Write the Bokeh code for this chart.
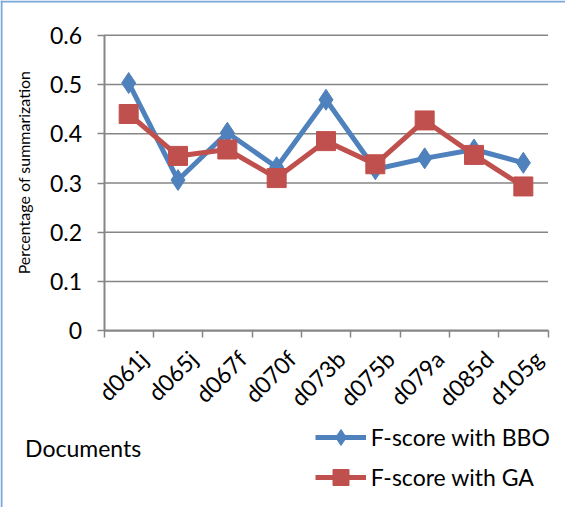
import math
from bokeh.plotting import figure
from bokeh.models import Range1d, FixedTicker, Legend, LegendItem, Label, Span
from bokeh.embed import file_html
from bokeh.resources import INLINE

documents = ["d061j", "d065j", "d067f", "d070f", "d073b", "d075b", "d079a", "d085d", "d105g"]
bbo = [0.503, 0.306, 0.402, 0.332, 0.469, 0.328, 0.350, 0.368, 0.341]
ga = [0.440, 0.355, 0.368, 0.310, 0.385, 0.338, 0.427, 0.357, 0.293]
y_ticks = [0, 0.1, 0.2, 0.3, 0.4, 0.5, 0.6]
y_tick_labels = ["0", "0.1", "0.2", "0.3", "0.4", "0.5", "0.6"]
series_names = ["F-score with BBO", "F-score with GA"]
x_title = "Documents"
y_title = "Percentage of summarization"

FONT = "Lato"
BLUE = "#4F81BD"
RED = "#C0504D"
GRID = "#868686"
BORDER = "#7BA7DC"

# canvas layout (pixels)
W, H = 565, 507
PLOT_L, PLOT_R, PLOT_T, PLOT_B = 103.5, 547.5, 34.7, 330.3
LABEL_SHIFT_PX = 15

n = len(documents)
xs = list(range(n))
bounds = [i - 0.5 for i in range(n + 1)]
x0, x1 = -0.5, n - 0.5
y0, y1 = y_ticks[0], y_ticks[-1]
ux = (PLOT_R - PLOT_L) / (x1 - x0)
uy = (PLOT_B - PLOT_T) / (y1 - y0)
xr = Range1d(x0 - PLOT_L / ux, x1 + (W - PLOT_R) / ux)
yr = Range1d(y0 - (H - PLOT_B) / uy, y1 + PLOT_T / uy)

p = figure(width=W, height=H, output_backend="svg", toolbar_location=None,
           x_range=xr, y_range=yr,
           min_border_left=0, min_border_right=0, min_border_top=0, min_border_bottom=0,
           background_fill_color="white", border_fill_color="white")
p.outline_line_color = None
p.xgrid.visible = False
p.ygrid.visible = False

# chart-area border (left and top edges)
p.add_layout(Span(location=xr.start + 1 / ux, dimension="height", line_color=BORDER, line_width=2))
p.add_layout(Span(location=yr.end - 1 / uy, dimension="width", line_color=BORDER, line_width=2))

# horizontal gridlines
p.segment(x0=[x0] * len(y_ticks), x1=[x1] * len(y_ticks), y0=y_ticks, y1=y_ticks,
          line_color=GRID, line_width=1.5)

# axes
shift = LABEL_SHIFT_PX / ux
label_pos = [i + shift for i in xs]
p.xaxis.fixed_location = y0
p.xaxis.bounds = (x0, x1)
p.xaxis.ticker = FixedTicker(ticks=label_pos, minor_ticks=bounds)
p.xaxis.major_label_overrides = {pos: d for pos, d in zip(label_pos, documents)}
p.xaxis.major_tick_line_color = None
p.xaxis.minor_tick_line_color = GRID
p.xaxis.minor_tick_line_width = 1.5
p.xaxis.minor_tick_in = 0
p.xaxis.minor_tick_out = 7
p.xaxis.major_label_orientation = math.pi / 4
p.xaxis.major_label_standoff = 17

p.yaxis.fixed_location = x0
p.yaxis.bounds = (y0, y1)
p.yaxis.ticker = FixedTicker(ticks=y_ticks)
p.yaxis.major_label_overrides = {t: l for t, l in zip(y_ticks, y_tick_labels)}
p.yaxis.major_tick_in = 0
p.yaxis.major_tick_out = 7
p.yaxis.major_tick_line_color = GRID
p.yaxis.major_tick_line_width = 1.5
p.yaxis.minor_tick_line_color = None
p.yaxis.major_label_standoff = 15

for ax in (p.xaxis, p.yaxis):
    ax.axis_line_color = GRID
    ax.axis_line_width = 2
    ax.major_label_text_font = FONT
    ax.major_label_text_font_size = "23px"
    ax.major_label_text_color = "black"

# series
l1 = p.line(xs, bbo, line_color=BLUE, line_width=5)
m1 = p.scatter(xs, bbo, marker="diamond", size=21, fill_color=BLUE, line_color=BLUE)
l2 = p.line(xs, ga, line_color=RED, line_width=5)
m2 = p.scatter(xs, ga, marker="square", size=19, fill_color=RED, line_color=RED)

legend = Legend(items=[LegendItem(label=series_names[0], renderers=[l1, m1]),
                       LegendItem(label=series_names[1], renderers=[l2, m2])],
                location=(314.7, 10.3), orientation="vertical",
                glyph_width=51, glyph_height=40, label_standoff=5, spacing=-2,
                padding=0, margin=0, border_line_color=None, background_fill_alpha=0,
                label_text_font=FONT, label_text_font_size="23px", label_text_color="black")
p.add_layout(legend)

p.add_layout(Label(x=24.6, y=H - 447, x_units="screen", y_units="screen",
                   text=x_title, text_font=FONT, text_font_size="23px", text_color="black",
                   text_align="left", text_baseline="middle"))
p.add_layout(Label(x=23, y=H - 172, x_units="screen", y_units="screen",
                   text=y_title, angle=math.pi / 2, text_font=FONT, text_font_size="16px",
                   text_color="black", text_align="center", text_baseline="middle"))

open("out.html", "w").write(file_html(p, INLINE))
